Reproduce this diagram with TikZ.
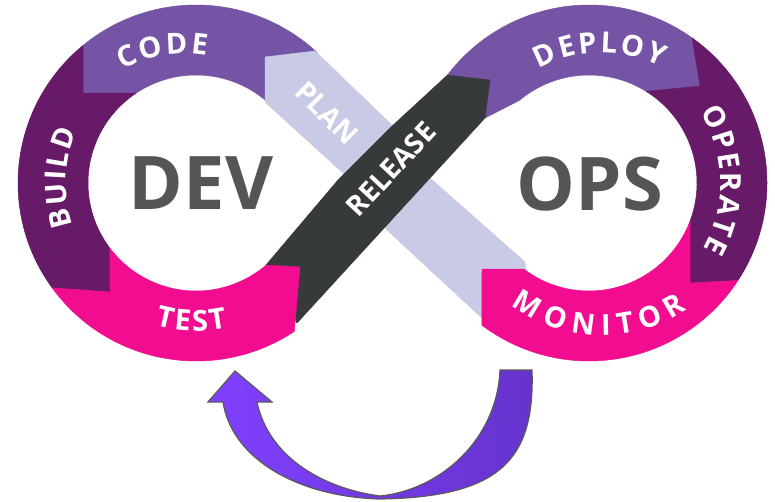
\documentclass[tikz,border=0pt]{standalone}
\usepackage{fontspec}
\setmainfont{Open Sans}
\usetikzlibrary{calc,decorations.text}
\definecolor{codec}{HTML}{7554A6}
\definecolor{buildc}{HTML}{661A68}
\definecolor{testc}{HTML}{F20C90}
\definecolor{relc}{HTML}{363A3A}
\definecolor{planc}{HTML}{C9CBE6}
\definecolor{bigtxt}{HTML}{555555}
\definecolor{arrL}{HTML}{8040FF}
\definecolor{arrR}{HTML}{6633CC}
\definecolor{arrline}{HTML}{5A5A5A}
\newcommand\lblfont{\bfseries\fontsize{29}{29}\selectfont\color{white}}
\begin{document}
\begin{tikzpicture}[x=1pt,y=-1pt,
  seg/.style={fill=#1, draw=#1, line width=0.5pt, line join=round},
  bigword/.style={text=bigtxt, font=\bfseries\fontsize{74}{74}\selectfont, inner sep=0pt},
  bandword/.style={text=white, font=\bfseries\fontsize{28}{28}\selectfont, inner sep=0pt},
  arclabel/.style={decorate, decoration={text along path, text={|\lblfont|#1}, text align={fit to path}}}
]
\useasboundingbox (0,0) rectangle (775,502);
\fill[white] (0,0) rectangle (775,502);
\coordinate (CL) at (196,183);
\coordinate (CR) at (589,183);
\coordinate (CLt) at (184,183);
\coordinate (CRt) at (602,183);

% CODE
\path[seg=codec] ($(CL)+(-129.4:178)$) arc[start angle=-129.4,end angle=-47,radius=178]
  -- ($(CL)+(-47:108)$) arc[start angle=-47,end angle=-123.7,radius=108] -- (83,93) -- cycle;
% BUILD
\path[seg=buildc] ($(CL)+(-129.4:178)$) arc[start angle=-129.4,end angle=-216.1,radius=178]
  -- (110,292) -- ($(CL)+(-217.2:108)$) arc[start angle=-217.2,end angle=-123.7,radius=108] -- (83,93) -- cycle;
% DEPLOY
\path[seg=codec] ($(CR)+(-142.7:178)$) arc[start angle=-142.7,end angle=-54.6,radius=178]
  -- (700,86) -- ($(CR)+(-58:108)$) arc[start angle=-58,end angle=-130,radius=108]
  -- (485,118) -- (490,80) -- cycle;
% OPERATE
\path[seg=buildc] ($(CR)+(-54.6:178)$) arc[start angle=-54.6,end angle=33.2,radius=178]
  -- (690,283) -- ($(CR)+(20.7:108)$) arc[start angle=20.7,end angle=-58,radius=108] -- (700,86) -- cycle;
% PLAN band
\path[seg=planc] (265,57) -- (315,51) -- (395,128) -- (430,178) -- (525,262) -- (530,300)
  -- (483,319) -- (387,230) -- (343,173) -- (265,102) -- cycle;
% RELEASE band
\path[seg=relc] (447.4,75.1) -- (490,80) -- (485,118) -- (297,323) -- (266,265)
  -- (338,180) -- (390,128) -- cycle;
% TEST
\path[seg=testc] ($(CL)+(143.9:178)$) arc[start angle=143.9,end angle=56.5,radius=178]
  -- (300,267) -- ($(CL)+(49.5:108)$) arc[start angle=49.5,end angle=142.8,radius=108] -- (110,292) -- cycle;
% MONITOR
\path[seg=testc] ($(CR)+(33.2:178)$) arc[start angle=33.2,end angle=127,radius=178]
  -- (482,269) -- ($(CR)+(127:108)$) arc[start angle=127,end angle=20.7,radius=108] -- (690,283) -- cycle;

% curved labels
\path[arclabel=CODE] ($(CLt)+(-118.5:129)$) arc[start angle=-118.5,end angle=-79.9,radius=129];
\path[arclabel=BUILD] ($(CL)+(161:130)$) arc[start angle=161,end angle=203.5,radius=130];
\path[arclabel=TEST] ($(CL)+(106:148)$) arc[start angle=106,end angle=77.8,radius=148];
\path[arclabel=DEPLOY] ($(CRt)+(-118.9:130.5)$) arc[start angle=-118.9,end angle=-63.1,radius=130.5];
\path[arclabel=OPERATE] ($(CR)+(-32.6:131.5)$) arc[start angle=-32.6,end angle=29.9,radius=131.5];
\path[arclabel=MONITOR] ($(CRt)+(126.6:152.5)$) arc[start angle=126.6,end angle=56,radius=152.5];

% band labels
\node[bandword, rotate=-45] (plan) at (327,113) {PLAN};
\node[bandword, rotate=47] (release) at (391,169) {RELEASE};

% big words
\node[bigword] (dev) at (201,183) {DEV};
\node[bigword] (ops) at (590,184) {OPS};

% feedback arrow
\shadedraw[left color=arrL, right color=arrR, draw=arrline, line width=1.2pt, line join=miter]
  (235,371) -- (272,402) -- (257,402) .. controls (268,455) and (320,488) .. (380,496)
  .. controls (440,490) and (497,440) .. (500,370) -- (532,370)
  .. controls (535,460) and (500,497) .. (380,499)
  .. controls (300,497) and (232,460) .. (223,402) -- (208,402) -- cycle;
\end{tikzpicture}
\end{document}
